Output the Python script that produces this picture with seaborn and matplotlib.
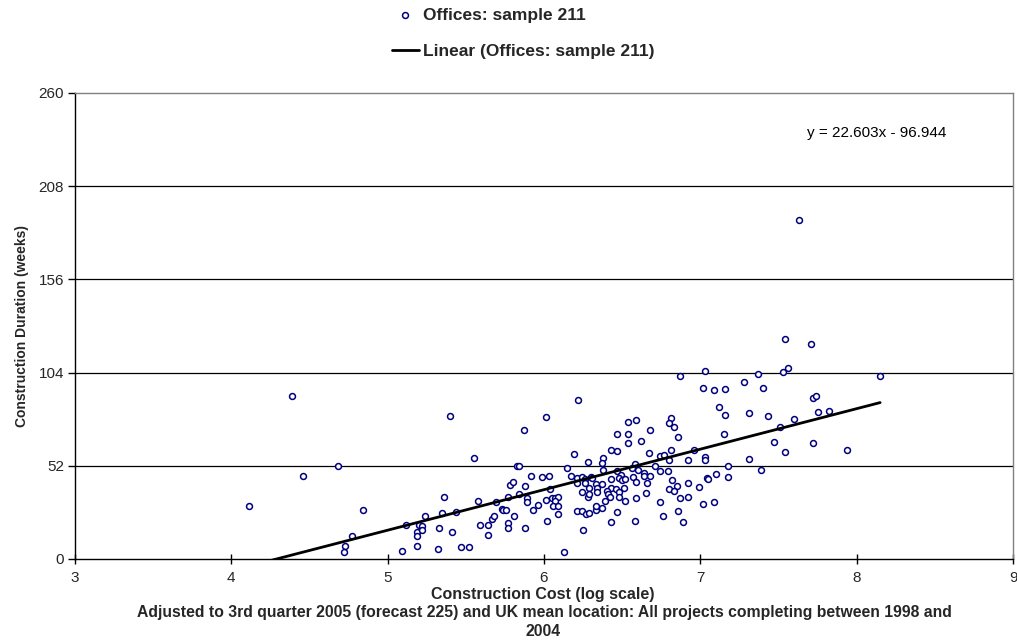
import numpy as np
import pandas as pd
import matplotlib
matplotlib.use("Agg")
import matplotlib.pyplot as plt
import seaborn as sns

# Construction cost (log scale) for each office project
cost = [
    4.39, 4.11, 4.46, 4.68, 4.84, 4.77, 4.73, 4.72,
    5.09, 5.40, 5.55, 5.12, 5.19, 5.19, 5.20, 5.22, 5.22, 5.19, 5.24, 5.32,
    5.33, 5.35, 5.36, 5.41, 5.44, 5.47, 5.52, 5.58, 5.59, 5.64, 5.64, 5.67,
    5.68, 5.69, 5.73, 5.74, 5.76, 5.77, 5.77, 5.77, 5.78,
    6.22, 6.01, 5.87, 6.19, 6.28, 5.83, 5.84, 6.15, 5.80, 5.92, 5.99, 6.03,
    6.17, 6.21, 6.24, 6.26, 6.30, 6.31, 6.21, 6.26, 5.88, 5.84, 6.29, 6.33,
    6.34, 6.04, 5.89, 5.89, 6.01, 6.05, 6.07, 6.09, 6.07, 6.24, 6.28, 6.29,
    6.34, 5.96, 6.06, 6.09, 5.93, 6.09, 6.21, 6.24, 6.27, 6.29, 6.33, 6.33,
    5.81, 6.02, 5.88, 6.25, 6.13,
    6.81, 6.80, 6.83, 6.54, 6.59, 6.68, 6.47, 6.54, 6.54, 6.62, 6.86, 6.43,
    6.47, 6.67, 6.74, 6.77, 6.81, 6.80, 6.92, 6.38, 6.37, 6.38, 6.58, 6.56,
    6.60, 6.71, 6.47, 6.74, 6.79, 6.64, 6.64, 6.68, 6.49, 6.57, 6.43, 6.48,
    6.50, 6.52, 6.59, 6.82, 6.66, 6.92, 6.37, 6.43, 6.51, 6.85, 6.40, 6.46,
    6.48, 6.80, 6.83, 6.41, 6.65, 6.42, 6.48, 6.59, 6.87, 6.92, 6.39, 6.52,
    6.74, 6.37, 6.47, 6.86, 6.76, 6.43, 6.58, 6.89,
    7.03, 7.37, 7.53, 7.56, 7.28, 7.02, 7.09, 7.16, 7.40, 7.12, 7.16, 7.31,
    7.43, 7.60, 7.51, 7.15, 7.47, 7.54, 6.96, 7.03, 7.03, 7.31, 7.18, 7.39,
    6.99, 7.04, 7.05, 7.10, 7.18, 7.02, 7.09,
    7.63, 7.54, 7.71, 8.15, 7.72, 7.74, 7.75, 7.82, 7.72, 7.94, 6.87,
]

# Construction duration in weeks for the same projects
duration = [
    91.0, 29.7, 46.3, 52.0, 27.2, 12.8, 7.4, 4.1,
    4.6, 79.8, 56.2, 19.2, 15.3, 13.0, 18.8, 18.4, 16.2, 7.1, 24.0, 5.8,
    17.5, 25.5, 34.8, 15.3, 26.0, 6.7, 6.7, 32.4, 19.2, 13.6, 19.2, 22.5,
    24.2, 31.8, 28.1, 27.2, 27.5, 20.1, 17.5, 34.6, 41.3,
    88.7, 79.4, 71.8, 58.6, 54.3, 51.9, 51.9, 50.8, 43.1, 46.2, 45.6, 46.2,
    46.2, 45.2, 45.8, 44.6, 45.6, 45.2, 42.6, 42.4, 40.9, 36.1, 39.8, 41.9,
    39.6, 38.9, 33.9, 32.0, 32.7, 33.9, 33.9, 34.4, 32.5, 37.4, 34.8, 36.4,
    37.2, 30.0, 29.7, 29.7, 27.2, 25.3, 26.8, 27.0, 25.3, 25.5, 27.3, 29.7,
    23.8, 21.2, 17.3, 16.0, 4.1,
    78.9, 75.7, 73.7, 76.5, 77.7, 72.2, 69.6, 69.6, 64.9, 65.7, 67.9, 60.7,
    60.3, 59.3, 57.6, 58.2, 60.7, 55.2, 55.2, 56.4, 53.4, 49.5, 53.2, 50.8,
    49.7, 51.9, 49.3, 49.1, 48.9, 48.2, 46.5, 46.5, 46.7, 45.8, 44.5, 45.0,
    43.9, 44.5, 43.1, 44.3, 42.6, 42.4, 41.7, 39.8, 39.6, 40.7, 37.9, 38.9,
    37.4, 38.9, 37.9, 36.4, 36.6, 34.4, 34.4, 34.0, 33.8, 34.8, 32.2, 32.4,
    31.6, 28.3, 26.1, 26.8, 23.8, 20.8, 21.2, 20.8,
    104.7, 103.4, 104.4, 106.4, 98.9, 95.4, 94.3, 94.7, 95.4, 84.8, 80.4, 81.3,
    79.8, 78.1, 73.5, 69.6, 65.1, 59.7, 60.7, 56.9, 55.2, 55.8, 52.1, 49.5,
    40.2, 45.4, 44.5, 47.6, 45.8, 30.7, 32.0,
    189.2, 122.6, 120.1, 102.3, 90.0, 91.0, 82.0, 82.4, 64.9, 60.7, 102.0,
]

# Linear trend line coefficients
slope = 22.603
intercept = -96.944

x_ticks = [3, 4, 5, 6, 7, 8, 9]
y_ticks = [0, 52, 104, 156, 208, 260]

series_label = "Offices: sample 211"
trend_label = "Linear (Offices: sample 211)"

df = pd.DataFrame({"cost": cost, "duration": duration})
x_fit = np.array([min(cost), max(cost)])
trend = pd.DataFrame({"cost": x_fit, "duration": slope * x_fit + intercept})

sns.set_theme(style="white")
plt.rcParams["font.family"] = ["Liberation Sans", "DejaVu Sans"]

W, H = 1017, 642
fig = plt.figure(figsize=(W / 100, H / 100), dpi=100)
ax = fig.add_axes([75 / W, (H - 559) / H, (1013 - 75) / W, (559 - 93) / H])

navy = "#000080"
sns.scatterplot(data=df, x="cost", y="duration", ax=ax, marker="o", s=18,
                facecolor="white", edgecolor=navy, linewidth=1.1,
                label=series_label, zorder=3)
sns.lineplot(data=trend, x="cost", y="duration", ax=ax, color="black",
             linewidth=2.0, label=trend_label, zorder=4)

ax.set_xlim(3, 9)
ax.set_ylim(0, 260)
ax.set_xticks(x_ticks)
ax.set_yticks(y_ticks)
ax.set_xticklabels([str(v) for v in x_ticks], fontsize=11)
ax.set_yticklabels([str(v) for v in y_ticks], fontsize=11)

for yv in y_ticks[1:-1]:
    ax.axhline(yv, color="black", linewidth=0.9, zorder=1)

for side in ("top", "right"):
    ax.spines[side].set_color("#808080")
    ax.spines[side].set_linewidth(1.0)
for side in ("left", "bottom"):
    ax.spines[side].set_color("black")
    ax.spines[side].set_linewidth(1.0)

ax.tick_params(axis="y", direction="out", length=5, width=1, color="black",
               pad=3, left=True)
ax.tick_params(axis="x", direction="inout", length=7, width=1, color="black",
               pad=5, bottom=True)
ax.set_xlabel("")
ax.set_ylabel("Construction Duration (weeks)", fontsize=10, fontweight="bold",
              labelpad=7)

ax.text(7.68, 237.7, "y = 22.603x - 96.944", fontsize=11, va="center",
        ha="left", color="black")

handles, labels = ax.get_legend_handles_labels()
ax.legend_.remove()
fig.legend(handles, labels, loc="upper left",
           bbox_to_anchor=(392 / W, 1 - 7.5 / H), frameon=False,
           prop={"weight": "bold", "size": 12.5}, labelspacing=1.2,
           handlelength=1.55, handletextpad=0.25, borderpad=0,
           borderaxespad=0, markerscale=1.0)

fig.text(543 / W, 1 - 594 / H, "Construction Cost (log scale)", ha="center",
         va="center", fontsize=11.5, fontweight="bold")
fig.text(544 / W, 1 - 612 / H,
         "Adjusted to 3rd quarter 2005 (forecast 225) and UK mean location: "
         "All projects completing between 1998 and",
         ha="center", va="center", fontsize=11.3, fontweight="bold")
fig.text(543 / W, 1 - 631 / H, "2004", ha="center", va="center",
         fontsize=11.3, fontweight="bold")

fig.savefig("out.png", dpi=100, facecolor="white")
